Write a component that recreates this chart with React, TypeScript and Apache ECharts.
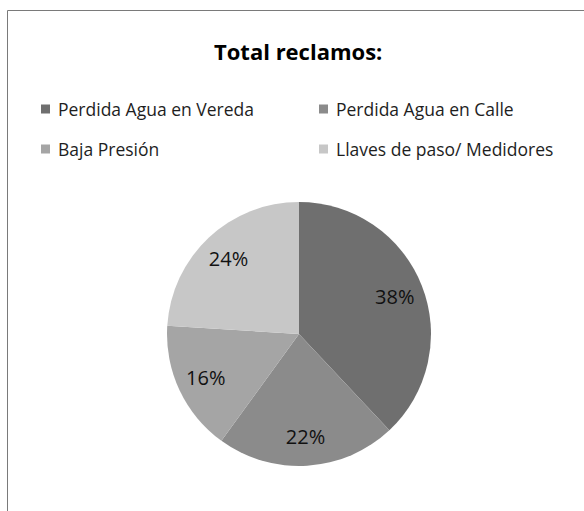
import React, { useEffect, useRef } from "react";
import * as echarts from "echarts";

const titleText = "Total reclamos:";
const categories = [
  "Perdida Agua en Vereda",
  "Perdida Agua en Calle",
  "Baja Presión",
  "Llaves de paso/ Medidores",
];
const values = [38, 22, 16, 24];
const colors = ["#6f6f6f", "#8b8b8b", "#a5a5a5", "#c7c7c7"];

export default function App() {
  const ref = useRef<HTMLDivElement>(null);
  useEffect(() => {
    if (!ref.current) return;
    const chart = echarts.init(ref.current, null, { renderer: "svg" });
    const data = categories.map((name, i) => ({
      name,
      value: values[i],
      itemStyle: { color: colors[i] },
    }));
    const legendText = {
      fontFamily: "Open Sans",
      fontSize: 17.5,
      color: "#1e1e1e",
      lineHeight: 20,
      padding: [0, 0, 0, 3],
    };
    chart.setOption({
      animation: false,
      backgroundColor: "#ffffff",
      graphic: [
        {
          type: "rect",
          silent: true,
          z: -1,
          shape: { x: 7.5, y: 10.5, width: 620, height: 540 },
          style: { fill: "none", stroke: "#7a7a7a", lineWidth: 1 },
        },
      ],
      title: {
        text: titleText,
        left: 214,
        top: 35,
        padding: 0,
        textStyle: {
          fontFamily: "Open Sans",
          fontWeight: "bold",
          fontSize: 22,
          color: "#000",
          lineHeight: 32,
        },
      },
      legend: [
        {
          orient: "vertical",
          left: 41,
          top: 99,
          padding: 0,
          itemWidth: 9,
          itemHeight: 9,
          itemGap: 20,
          icon: "rect",
          data: [categories[0], categories[2]],
          textStyle: legendText,
        },
        {
          orient: "vertical",
          left: 319,
          top: 99,
          padding: 0,
          itemWidth: 9,
          itemHeight: 9,
          itemGap: 20,
          icon: "rect",
          data: [categories[1], categories[3]],
          textStyle: legendText,
        },
      ],
      series: [
        {
          type: "pie",
          center: [299, 334],
          radius: [0, 132],
          startAngle: 90,
          clockwise: true,
          label: { show: false },
          labelLine: { show: false },
          itemStyle: { borderWidth: 0 },
          data,
        },
        {
          type: "pie",
          silent: true,
          center: [299, 334],
          radius: [68, 132],
          startAngle: 90,
          clockwise: true,
          itemStyle: { color: "rgba(0,0,0,0)", borderWidth: 0 },
          label: {
            show: true,
            position: "inside",
            formatter: "{d}%",
            fontFamily: "Open Sans",
            fontSize: 20,
            color: "#111",
          },
          labelLine: { show: false },
          data: categories.map((name, i) => ({ name, value: values[i] })),
        },
      ],
    });
    return () => chart.dispose();
  }, []);
  return (
    <div
      ref={ref}
      style={{ position: "absolute", left: 0, top: 0, width: 584, height: 511 }}
    />
  );
}
